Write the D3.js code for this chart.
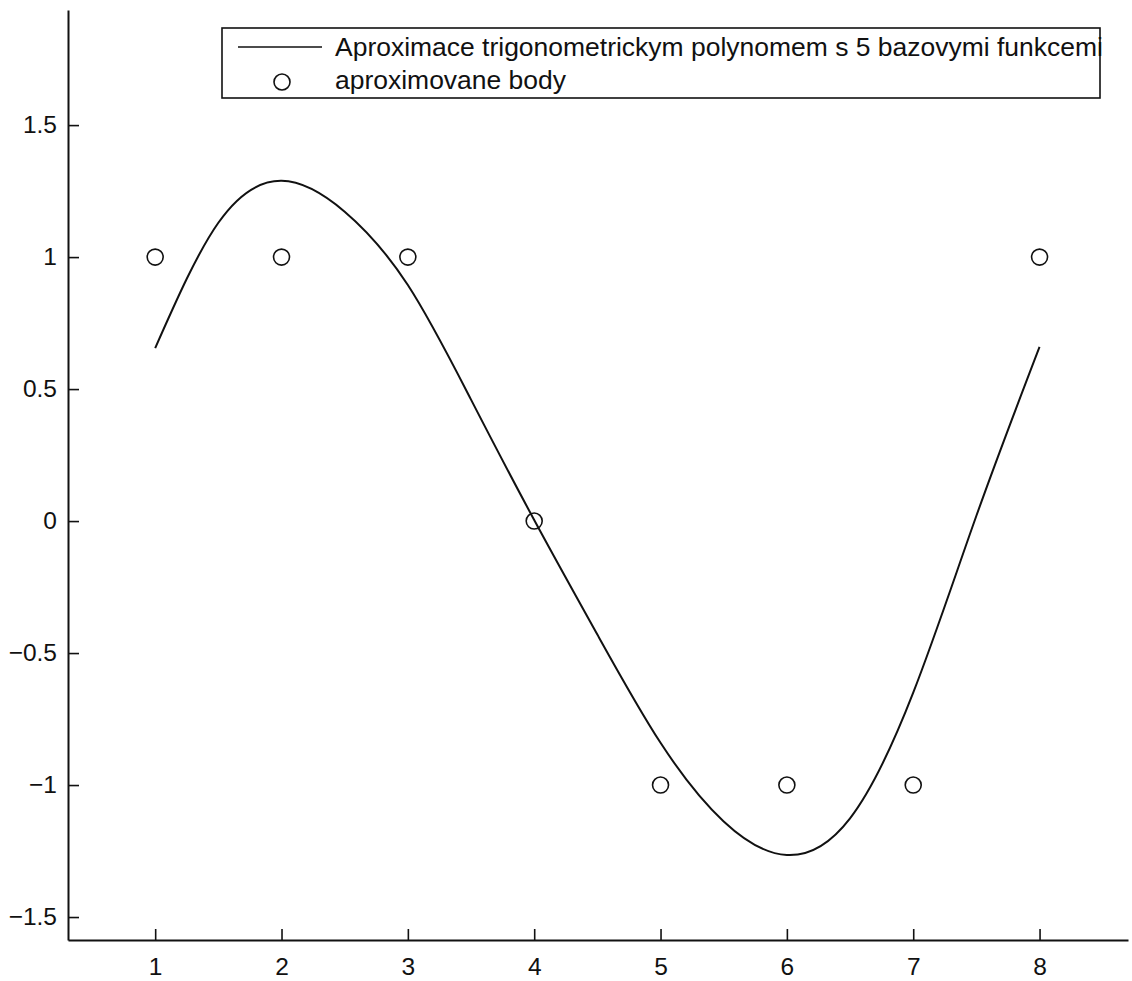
<!DOCTYPE html>
<html>
<head>
<meta charset="utf-8">
<script src="https://cdn.jsdelivr.net/npm/d3@7"></script>
<style>
  body { margin: 0; background: #fff; }
  text { font-family: "Liberation Sans", Arial, Helvetica, sans-serif; }
</style>
</head>
<body>
<script>
/*** data ***/
const pointX = [1, 2, 3, 4, 5, 6, 7, 8];
const pointY = [1, 1, 1, 0, -1, -1, -1, 1];

// fitted curve
const curveX = [1.0, 1.5, 2.0, 2.5, 3.0, 3.5, 4.0, 4.5, 5.0, 5.5, 6.0, 6.5, 7.0, 7.5, 8.0];
const curveY = [0.655, 1.13, 1.289, 1.172, 0.894, 0.46, 0.004, -0.43, -0.84, -1.138, -1.265, -1.126, -0.65, 0.02, 0.66];

const xTicks = [1, 2, 3, 4, 5, 6, 7, 8];
const yTicks = [-1.5, -1, -0.5, 0, 0.5, 1, 1.5];
const xLimits = [0.31, 8.70];
const yLimits = [-1.587, 1.936];

const legendLabels = ["Aproximace trigonometrickym polynomem s 5 bazovymi funkcemi", "aproximovane body"];

/*** setup ***/
const width = 1132, height = 981;
const x = d3.scaleLinear().domain(xLimits).range([68, 1128]);
const y = d3.scaleLinear().domain(yLimits).range([940, 10]);

const svg = d3.select("body").append("svg")
  .attr("width", width)
  .attr("height", height);

svg.append("rect").attr("width", width).attr("height", height).attr("fill", "#fff");

// minus sign like matlab
const fmt = d => (d < 0 ? "\u2212" : "") + Math.abs(d);

// axes - ticks point inward, no box
const xAxis = svg.append("g")
  .attr("transform", `translate(0,${y.range()[0]})`)
  .call(d3.axisBottom(x).tickValues(xTicks).tickFormat(fmt).tickSizeInner(-11).tickSizeOuter(0).tickPadding(18));

const yAxis = svg.append("g")
  .attr("transform", `translate(${x.range()[0]},0)`)
  .call(d3.axisLeft(y).tickValues(yTicks).tickFormat(fmt).tickSizeInner(-11).tickSizeOuter(0).tickPadding(11));

[xAxis, yAxis].forEach(g => {
  g.select(".domain").attr("stroke", "#111").attr("stroke-width", 2);
  g.selectAll(".tick line").attr("stroke", "#111").attr("stroke-width", 1.6);
  g.selectAll(".tick text").attr("fill", "#111").attr("font-size", 24.5)
    .attr("font-family", '"Liberation Sans", Arial, Helvetica, sans-serif');
});

// the curve
const curveData = curveX.map((d, i) => [d, curveY[i]]);
svg.append("path")
  .datum(curveData)
  .attr("fill", "none")
  .attr("stroke", "#111")
  .attr("stroke-width", 2)
  .attr("d", d3.line().x(d => x(d[0])).y(d => y(d[1])).curve(d3.curveNatural));

// the points
svg.append("g")
  .selectAll("circle")
  .data(pointX.map((d, i) => [d, pointY[i]]))
  .join("circle")
  .attr("cx", d => x(d[0]))
  .attr("cy", d => y(d[1]))
  .attr("r", 8)
  .attr("fill", "none")
  .attr("stroke", "#111")
  .attr("stroke-width", 1.6);

/*** legend ***/
const legend = svg.append("g");
legend.append("rect")
  .attr("x", 222).attr("y", 28)
  .attr("width", 878).attr("height", 70)
  .attr("fill", "#fff")
  .attr("stroke", "#111")
  .attr("stroke-width", 1.6);

legend.append("line")
  .attr("x1", 238).attr("x2", 322)
  .attr("y1", 47).attr("y2", 47)
  .attr("stroke", "#111").attr("stroke-width", 1.6);

legend.append("circle")
  .attr("cx", 282).attr("cy", 82).attr("r", 8)
  .attr("fill", "none").attr("stroke", "#111").attr("stroke-width", 1.6);

const labels = legend.selectAll("text.lbl")
  .data(legendLabels)
  .join("text")
  .attr("class", "lbl")
  .attr("x", 335)
  .attr("y", (d, i) => 56 + i * 33)
  .attr("font-size", 24)
  .attr("fill", "#111")
  .text(d => d);

// the scan's font runs a bit wider - size the first label to reach ~1103px
const w0 = labels.node().getComputedTextLength();
labels.attr("font-size", 24 * 768 / w0);
</script>
</body>
</html>
